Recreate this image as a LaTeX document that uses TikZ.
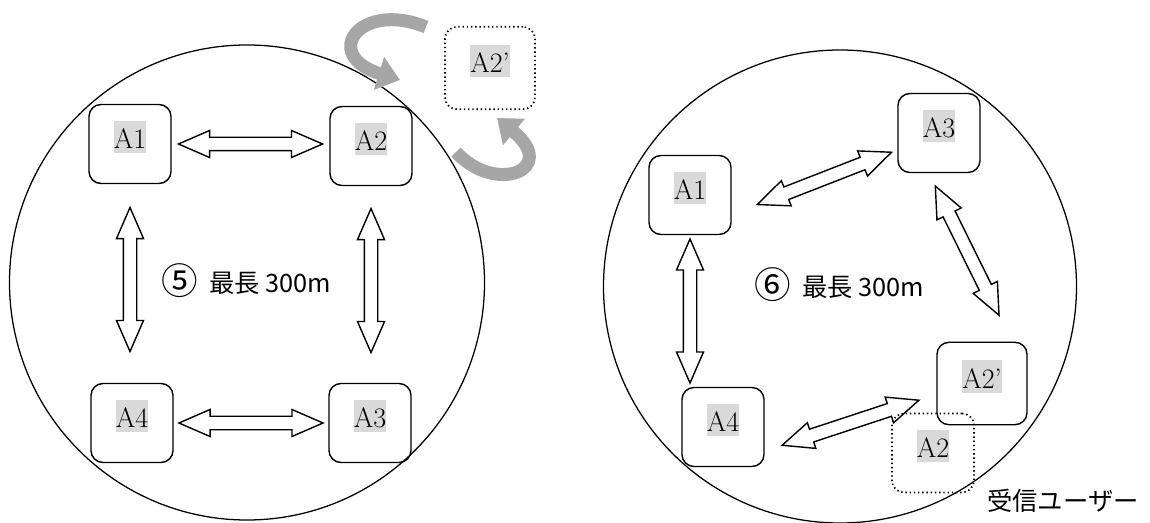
\documentclass[tikz,border=0pt]{standalone}
\usepackage{fontspec}
\newfontfamily\jpfont{Noto Sans CJK JP}
\usetikzlibrary{arrows.meta}
\usetikzlibrary{calc}
\usetikzlibrary{shapes.arrows}

\begin{document}
\begin{tikzpicture}[x=0.025cm, y=-0.025cm,
        unit/.style={draw, line width=1pt, rounded corners=0.3cm, inner sep=0pt,
            minimum width=2.05cm, minimum height=1.975cm},
        wide/.style={minimum width=2.25cm, minimum height=2.06cm},
        ghost/.style={unit, dotted, line width=1.2pt},
        tag/.style={fill=gray!30, inner sep=0pt, text height=20pt, text depth=3.4pt,
            font=\fontsize{20}{24}\selectfont},
        link/.style={double arrow, draw, line width=1pt, inner sep=0pt, sloped,
            text height=0.3cm, text depth=0pt, text width=0pt,
            minimum height=3.6cm,
            double arrow head extend=0.17cm, double arrow tip angle=47},
        swing/.style={draw=gray!70, line width=0.325cm,
            -{Triangle[width=0.825cm, length=0.55cm]}},
        note/.style={inner sep=0pt, font=\jpfont\fontsize{18}{22}\selectfont}]
    \useasboundingbox (0,0) rectangle (1150,523);

    % left group
    \draw[line width=0.9pt] (247,282.5) circle [radius=237.5];
    \node[unit] (L1) at (130,144) {};
    \node[unit] (L2) at (371,146) {};
    \node[unit] (L3) at (370,423) {};
    \node[unit] (L4) at (132,423) {};
    \node[ghost, wide] (L2x) at (490,68) {};
    \path (L1.east) -- (L1.east -| L2.west) node[link, midway] {};
    \path (L4.east) -- (L4.east -| L3.west) node[link, midway] {};
    \path (L1.south) -- (L1.south |- L4.north) node[link, pos=0.48] {};
    \path (L2.south) -- (L2.south |- L3.north) node[link, pos=0.48] {};
    \node[note] (L0) at (246,281) {\raisebox{-2pt}{\fontsize{26}{26}\selectfont ⑤}\hspace{0.45em}最長 300m};
    \coordinate (go) at (426,27);
    \coordinate (in) at (400,80);
    \coordinate (back) at (456,152);
    \coordinate (up) at (497,118);
    \draw[swing] (go) .. controls (360,0) and (320,55) .. (in);
    \draw[swing] (back) .. controls (495,195) and (560,170) .. (up);

    % right group
    \draw[line width=0.9pt] (840,286.5) circle [radius=236.5];
    \node[unit] (R1) at (690,195) {};
    \node[unit] (R3) at (939,133) {};
    \node[unit] (R4) at (723,427) {};
    \node[unit, wide] (R2x) at (982,383.5) {};
    \node[ghost] (R2) at (933,453) {};
    \path (R1.south) -- (R1.south |- R4.north) node[link, midway] {};
    \path ($(R1.east)+(0,19.5)$) -- ($(R3.west)+(0,17)$) node[link, pos=0.56] {};
    \path ($(R3.south)+(-10,0)$) -- ($(R2x.north)+(30,0)$) node[link, pos=0.46] {};
    \path ($(R4.east)+(0,24)$) -- ($(R2x.west)+(0,11)$) node[link, midway] {};
    \node[note] (R0) at (839,285) {\raisebox{-2pt}{\fontsize{26}{26}\selectfont ⑥}\hspace{0.45em}最長 300m};
    \node[note] (user) at (1063,501) {受信ユーザー};

    % names in the boxes
    \foreach \n/\t in {L1/A1, L2/A2, L3/A3, L4/A4, L2x/A2', R1/A1, R3/A3, R4/A4, R2x/A2', R2/A2}
        \node[tag] (\n-t) at ($(\n)+(0,-7)$) {\t};
\end{tikzpicture}
\end{document}
